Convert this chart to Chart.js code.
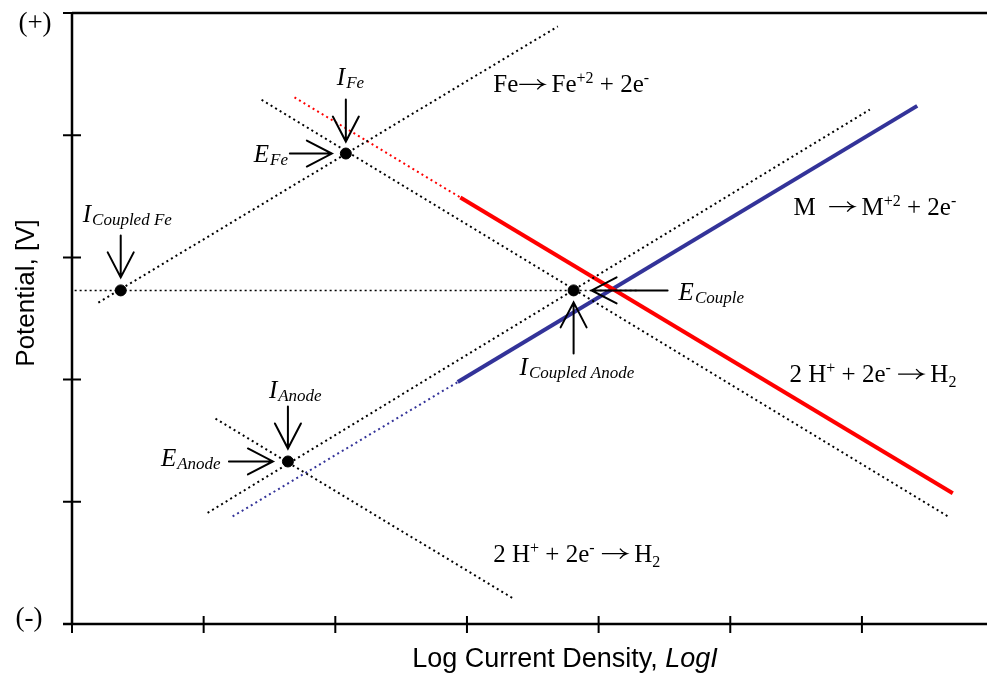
<!DOCTYPE html>
<html>
<head>
<meta charset="utf-8">
<script src="https://cdn.jsdelivr.net/npm/chart.js@4/dist/chart.umd.min.js"></script>
<style>
  html, body { margin: 0; padding: 0; background: #fff; }
  canvas { display: block; }
</style>
</head>
<body>
<canvas id="evans" width="987" height="677"></canvas>
<script>
// scale ranges, log I on x and potential on y
const xTicks = [0, 1, 2, 3, 4, 5, 6];
const yTicks = [0, 1, 2, 3, 4, 5];
const xMax = 6.95;

// polarization lines as [logI, E] end points
const feAnodic = [[0.20, 2.63], [3.69, 4.89]];
const feCathodic = [[1.44, 4.29], [6.67, 0.87]];
const redDotted = [[1.69, 4.31], [2.95, 3.49]];
const redSolid = [[2.95, 3.49], [6.69, 1.07]];
const blueDotted = [[1.22, 0.88], [2.93, 1.98]];
const blueSolid = [[2.93, 1.98], [6.42, 4.24]];
const anodeAnodic = [[1.03, 0.91], [6.06, 4.21]];
const anodeCathodic = [[1.09, 1.68], [3.35, 0.21]];
const coupleLevel = [[0.02, 2.73], [4.31, 2.73]];

// marked intersections
const pointNames = ['coupledFe', 'fe', 'couple', 'anode'];
const pointX = [0.37, 2.08, 3.81, 1.64];
const pointY = [2.73, 3.85, 2.73, 1.33];

// reaction labels: text parts (0 normal, 1 superscript, -1 subscript, 2 arrow)
const h2Parts = [['2 H', 0], ['+', 1], [' + 2e', 0], ['-', 1], [' ', 0], ['\u2192', 2], [' H', 0], ['2', -1]];
const equations = [
  { x: 3.20, y: 4.35, parts: [['Fe', 0], ['\u2192', 2], [' Fe', 0], ['+2', 1], [' + 2e', 0], ['-', 1]] },
  { x: 5.48, y: 3.35, parts: [['M  ', 0], ['\u2192', 2], [' M', 0], ['+2', 1], [' + 2e', 0], ['-', 1]] },
  { x: 5.45, y: 1.98, parts: h2Parts },
  { x: 3.20, y: 0.51, parts: h2Parts }
];

// arrows pointing at the marked intersections
const arrows = [
  { at: 'fe', dir: 'down', gap: 12, len: 42 },
  { at: 'fe', dir: 'right', gap: 14, len: 42 },
  { at: 'coupledFe', dir: 'down', gap: 13, len: 42 },
  { at: 'couple', dir: 'left', gap: 18, len: 76 },
  { at: 'couple', dir: 'up', gap: 12, len: 51 },
  { at: 'anode', dir: 'down', gap: 13, len: 42 },
  { at: 'anode', dir: 'right', gap: 15, len: 44 }
];

const markLabels = [
  { at: 'fe', main: 'I', sub: 'Fe', dx: -9, dy: -69 },
  { at: 'fe', main: 'E', sub: 'Fe', dx: -92, dy: 8 },
  { at: 'coupledFe', main: 'I', sub: 'Coupled Fe', dx: -38, dy: -68 },
  { at: 'couple', main: 'E', sub: 'Couple', dx: 105, dy: 10 },
  { at: 'couple', main: 'I', sub: 'Coupled Anode', dx: -54, dy: 85 },
  { at: 'anode', main: 'I', sub: 'Anode', dx: -19, dy: -63 },
  { at: 'anode', main: 'E', sub: 'Anode', dx: -127, dy: 5 }
];

const SERIF = '"Liberation Serif", "Times New Roman", serif';
const SANS = '"Liberation Sans", Arial, sans-serif';

const toXY = (pts) => pts.map(p => ({ x: p[0], y: p[1] }));

const lineSet = (pts, color, width, dash) => ({
  data: toXY(pts),
  showLine: true,
  borderColor: color,
  borderWidth: width,
  borderDash: dash || [],
  borderCapStyle: 'butt',
  pointRadius: 0,
  fill: false
});

const DOTS = [2, 3.3];

const pointPx = (chart, name) => {
  const i = pointNames.indexOf(name);
  return {
    x: chart.scales.x.getPixelForValue(pointX[i]),
    y: chart.scales.y.getPixelForValue(pointY[i])
  };
};

// draws the frame lines and crossing ticks from the scales
const axesPlugin = {
  id: 'axesPlugin',
  beforeDatasetsDraw(chart) {
    const { ctx, chartArea: a, scales: { x, y } } = chart;
    ctx.save();
    ctx.strokeStyle = '#000';
    ctx.lineWidth = 2.5;
    ctx.beginPath();
    ctx.moveTo(a.left, a.top);
    ctx.lineTo(chart.width, a.top);
    ctx.moveTo(a.left, a.top);
    ctx.lineTo(a.left, a.bottom);
    ctx.moveTo(a.left - 9, a.bottom);
    ctx.lineTo(chart.width, a.bottom);
    ctx.stroke();

    ctx.lineWidth = 2;
    ctx.beginPath();
    yTicks.forEach(v => {
      const py = y.getPixelForValue(v);
      ctx.moveTo(a.left - 9, py);
      ctx.lineTo(a.left + 9, py);
    });
    xTicks.forEach(v => {
      const px = x.getPixelForValue(v);
      ctx.moveTo(px, a.bottom - 8);
      ctx.lineTo(px, a.bottom + 9);
    });
    ctx.stroke();

    // end labels on the potential axis
    ctx.fillStyle = '#000';
    ctx.font = '27px ' + SERIF;
    ctx.textAlign = 'center';
    ctx.textBaseline = 'middle';
    ctx.fillText('(+)', 35, y.getPixelForValue(5) + 11);
    ctx.fillText('(-)', 29, y.getPixelForValue(0) - 5);

    // axis titles
    ctx.textBaseline = 'alphabetic';
    ctx.textAlign = 'left';
    const t1 = 'Log Current Density, ';
    ctx.font = '27px ' + SANS;
    const w1 = ctx.measureText(t1).width;
    ctx.font = 'italic 27px ' + SANS;
    const w2 = ctx.measureText('LogI').width;
    const startX = 565 - (w1 + w2) / 2;
    ctx.font = '27px ' + SANS;
    ctx.fillText(t1, startX, 667);
    ctx.font = 'italic 27px ' + SANS;
    ctx.fillText('LogI', startX + w1, 667);

    ctx.translate(34, 293);
    ctx.rotate(-Math.PI / 2);
    ctx.font = '26px ' + SANS;
    ctx.textAlign = 'center';
    ctx.fillText('Potential, [V]', 0, 0);
    ctx.restore();
  }
};

const drawArrow = (ctx, tipX, tipY, dir, len) => {
  const v = { down: [0, 1], up: [0, -1], right: [1, 0], left: [-1, 0] }[dir];
  const head = 25, half = 13;
  ctx.beginPath();
  ctx.moveTo(tipX - v[0] * len, tipY - v[1] * len);
  ctx.lineTo(tipX, tipY);
  ctx.moveTo(tipX - v[0] * head - v[1] * half, tipY - v[1] * head - v[0] * half);
  ctx.lineTo(tipX, tipY);
  ctx.lineTo(tipX - v[0] * head + v[1] * half, tipY - v[1] * head + v[0] * half);
  ctx.stroke();
};

// reaction arrow glyph, stretched to the width of a symbol-font arrow
const drawReactionArrow = (ctx, x0, y0) => {
  const w = 27;
  ctx.save();
  ctx.strokeStyle = '#000';
  ctx.lineWidth = 1.3;
  ctx.lineCap = 'butt';
  const my = y0 - 8;
  ctx.beginPath();
  ctx.moveTo(x0 + 1, my);
  ctx.lineTo(x0 + w - 1, my);
  ctx.moveTo(x0 + w - 8, my - 5);
  ctx.quadraticCurveTo(x0 + w - 5, my - 1, x0 + w - 1, my);
  ctx.quadraticCurveTo(x0 + w - 5, my + 1, x0 + w - 8, my + 5);
  ctx.stroke();
  ctx.restore();
  return w;
};

const drawParts = (ctx, parts, x0, y0) => {
  let cx = x0;
  parts.forEach(([t, kind]) => {
    if (kind === 2) {
      cx += drawReactionArrow(ctx, cx, y0);
      return;
    }
    const size = kind === 0 ? 25 : 16;
    const shift = kind === 1 ? -9 : (kind === -1 ? 5 : 0);
    ctx.font = size + 'px ' + SERIF;
    ctx.fillText(t, cx, y0 + shift);
    cx += ctx.measureText(t).width;
  });
};

// arrows, I/E labels and reaction equations on top of the lines
const notesPlugin = {
  id: 'notesPlugin',
  afterDatasetsDraw(chart) {
    const { ctx, scales: { x, y } } = chart;
    ctx.save();
    ctx.strokeStyle = '#000';
    ctx.fillStyle = '#000';
    ctx.lineWidth = 2;
    ctx.lineCap = 'round';
    arrows.forEach(a => {
      const p = pointPx(chart, a.at);
      const off = { down: [0, -a.gap], up: [0, a.gap], right: [-a.gap, 0], left: [a.gap, 0] }[a.dir];
      drawArrow(ctx, p.x + off[0], p.y + off[1], a.dir, a.len);
    });

    ctx.textAlign = 'left';
    ctx.textBaseline = 'alphabetic';
    markLabels.forEach(l => {
      const p = pointPx(chart, l.at);
      ctx.font = 'italic 25px ' + SERIF;
      ctx.fillText(l.main, p.x + l.dx, p.y + l.dy);
      const w = ctx.measureText(l.main).width;
      ctx.font = 'italic 17px ' + SERIF;
      ctx.fillText(l.sub, p.x + l.dx + w + 1, p.y + l.dy + 3);
    });

    equations.forEach(e => {
      drawParts(ctx, e.parts, x.getPixelForValue(e.x), y.getPixelForValue(e.y));
    });
    ctx.restore();
  }
};

new Chart(document.getElementById('evans'), {
  type: 'scatter',
  data: {
    datasets: [
      lineSet(coupleLevel, '#000', 1.5, [2, 3]),
      lineSet(feAnodic, '#000', 2, DOTS),
      lineSet(feCathodic, '#000', 2, DOTS),
      lineSet(anodeAnodic, '#000', 2, DOTS),
      lineSet(anodeCathodic, '#000', 2, DOTS),
      lineSet(redDotted, '#ff0000', 2, DOTS),
      lineSet(blueDotted, '#333399', 2, DOTS),
      lineSet(redSolid, '#ff0000', 4),
      lineSet(blueSolid, '#333399', 4),
      {
        data: pointX.map((v, i) => ({ x: v, y: pointY[i] })),
        pointRadius: 5.5,
        pointBackgroundColor: '#000',
        pointBorderColor: '#000',
        showLine: false
      }
    ]
  },
  options: {
    responsive: false,
    animation: false,
    devicePixelRatio: 1,
    layout: { autoPadding: false, padding: { left: 72, top: 13, right: 0, bottom: 53 } },
    plugins: { legend: { display: false }, tooltip: { enabled: false } },
    scales: {
      x: { type: 'linear', min: 0, max: xMax, display: false },
      y: { type: 'linear', min: 0, max: 5, display: false }
    }
  },
  plugins: [axesPlugin, notesPlugin]
});
</script>
</body>
</html>
